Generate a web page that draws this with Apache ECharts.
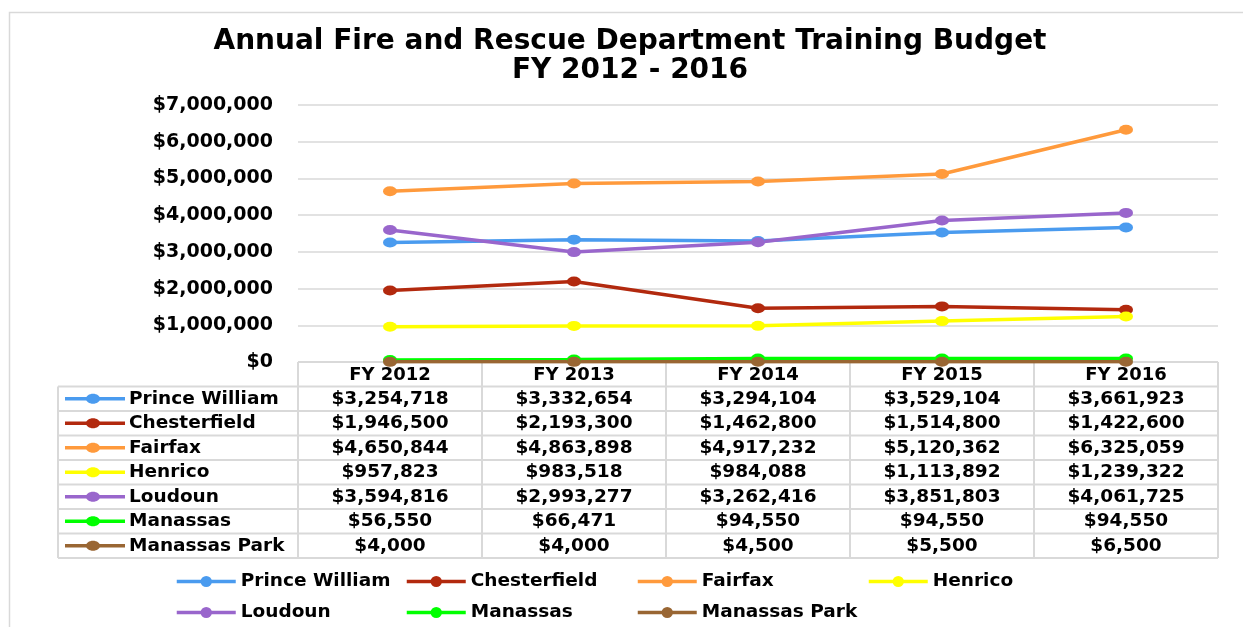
<!DOCTYPE html>
<html>
<head>
<meta charset="utf-8">
<script src="https://cdn.jsdelivr.net/npm/echarts@6/dist/echarts.min.js"></script>
<style>
  html, body { margin: 0; padding: 0; background: #fff; }
  #main { width: 1243px; height: 627px; }
</style>
</head>
<body>
<div id="main"></div>
<script>
const years = ['FY 2012', 'FY 2013', 'FY 2014', 'FY 2015', 'FY 2016']
const counties = ['Prince William', 'Chesterfield', 'Fairfax', 'Henrico', 'Loudoun', 'Manassas', 'Manassas Park']
const colors = ['#4a9bef', '#b2290e', '#ff9a3c', '#ffff00', '#9966cc', '#00ff00', '#996633']

const princeWilliam = [3254718, 3332654, 3294104, 3529104, 3661923]
const chesterfield  = [1946500, 2193300, 1462800, 1514800, 1422600]
const fairfax       = [4650844, 4863898, 4917232, 5120362, 6325059]
const henrico       = [957823, 983518, 984088, 1113892, 1239322]
const loudoun       = [3594816, 2993277, 3262416, 3851803, 4061725]
const manassas      = [56550, 66471, 94550, 94550, 94550]
const manassasPark  = [4000, 4000, 4500, 5500, 6500]

const values = [princeWilliam, chesterfield, fairfax, henrico, loudoun, manassas, manassasPark]

const FONT = 'DejaVu Sans'
const GRID_COLOR = '#d9d9d9'
const money = v => '$' + v.toLocaleString('en-US')

const chart = echarts.init(document.getElementById('main'))

// bottom legend is laid out in fixed columns, one legend per column
const legendCols = [
  { left: 175, data: ['Prince William', 'Loudoun'] },
  { left: 405, data: ['Chesterfield', 'Manassas'] },
  { left: 636, data: ['Fairfax', 'Manassas Park'] },
  { left: 867, data: ['Henrico'] },
]

chart.setOption({
  animation: false,
  backgroundColor: '#fff',
  title: {
    text: 'Annual Fire and Rescue Department Training Budget\nFY 2012 - 2016',
    left: 630,
    top: 27,
    padding: 0,
    textAlign: 'center',
    textStyle: { fontFamily: FONT, fontSize: 28, fontWeight: 'bold', color: '#000', lineHeight: 29 },
  },
  legend: legendCols.map(c => ({
    orient: 'vertical',
    left: c.left,
    top: 572,
    padding: 0,
    itemWidth: 59,
    itemHeight: 14,
    itemGap: 12,
    data: c.data,
    lineStyle: { width: 3.5 },
    textStyle: { fontFamily: FONT, fontSize: 18.5, fontWeight: 'bold', color: '#000', lineHeight: 17 },
  })),
  grid: { left: 298, right: 25, top: 105, bottom: 265 },
  xAxis: {
    type: 'category',
    data: years,
    boundaryGap: true,
    axisLine: { show: false },
    axisTick: { show: false },
    axisLabel: { margin: 4, fontFamily: FONT, fontSize: 18, fontWeight: 'bold', color: '#000' },
  },
  yAxis: {
    type: 'value',
    min: 0,
    max: 7000000,
    interval: 1000000,
    axisLine: { show: false },
    axisTick: { show: false },
    splitLine: { lineStyle: { color: GRID_COLOR, width: 1.5 } },
    axisLabel: { margin: 25, fontFamily: FONT, fontSize: 19, fontWeight: 'bold', color: '#000', formatter: money },
  },
  series: counties.map((name, i) => ({
    name,
    type: 'line',
    data: values[i],
    color: colors[i],
    symbol: 'circle',
    symbolSize: [14, 10],
    lineStyle: { width: 3.5 },
  })),
})

// data table below the plot, columns taken from the category axis
const xs = years.map(y => chart.convertToPixel({ xAxisIndex: 0 }, y))
const colW = xs[1] - xs[0]
const plotL = xs[0] - colW / 2
const plotR = xs[xs.length - 1] + colW / 2
const tableTop = chart.convertToPixel({ yAxisIndex: 0 }, 0)
const tableL = 58
const rowH = 24.5
const tableBot = tableTop + rowH * (counties.length + 1)

const line = (x1, y1, x2, y2) => ({
  type: 'line', silent: true,
  shape: { x1, y1, x2, y2 },
  style: { stroke: GRID_COLOR, lineWidth: 2 },
})
const txt = (x, y, text, align) => ({
  type: 'text', silent: true, x, y,
  style: { text, x: 0, y: 0, align, verticalAlign: 'middle', fill: '#000',
    font: `bold 18.5px "${FONT}"` },
})

const graphic = [{
  type: 'rect', silent: true,
  shape: { x: 9.5, y: 12.5, width: 1300, height: 700 },
  style: { fill: null, stroke: GRID_COLOR, lineWidth: 1.5 },
}]

graphic.push(line(plotL, tableTop, plotR, tableTop))
for (let r = 1; r <= counties.length + 1; r++) {
  const y = tableTop + r * rowH
  graphic.push(line(tableL, y, plotR, y))
}
graphic.push(line(tableL, tableTop + rowH, tableL, tableBot))
for (let c = 0; c <= years.length; c++) {
  const x = plotL + c * colW
  graphic.push(line(x, tableTop, x, tableBot))
}

counties.forEach((name, i) => {
  const cy = tableTop + (i + 1.5) * rowH
  graphic.push({
    type: 'line', silent: true,
    shape: { x1: 65, y1: cy, x2: 125, y2: cy },
    style: { stroke: colors[i], lineWidth: 3.5 },
  })
  graphic.push({
    type: 'ellipse', silent: true,
    shape: { cx: 93, cy, rx: 7, ry: 5 },
    style: { fill: colors[i] },
  })
  graphic.push(txt(129, cy, name, 'left'))
  values[i].forEach((v, j) => graphic.push(txt(xs[j], cy, money(v), 'center')))
})

chart.setOption({ graphic })
</script>
</body>
</html>
